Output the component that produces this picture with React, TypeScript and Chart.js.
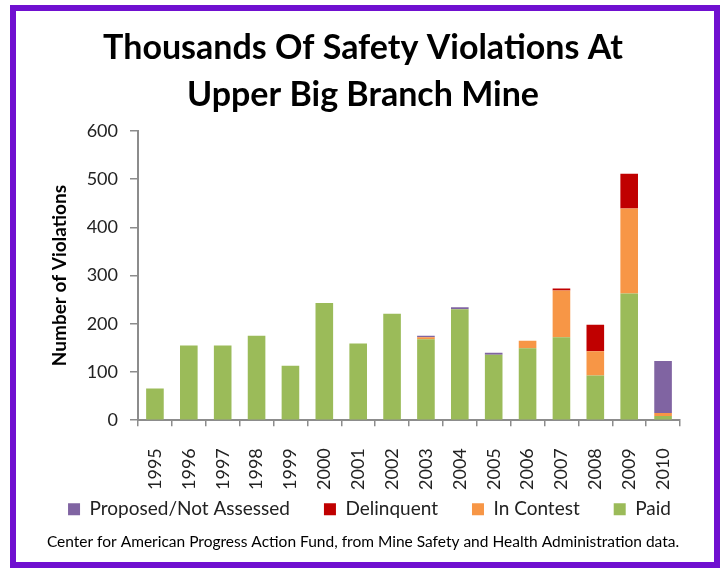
import React, { useEffect, useRef } from 'react';
import { Chart, registerables } from 'chart.js';

Chart.register(...registerables);

const years = ['1995', '1996', '1997', '1998', '1999', '2000', '2001', '2002', '2003', '2004', '2005', '2006', '2007', '2008', '2009', '2010'];
const paid = [66, 155, 155, 175, 113, 243, 159, 221, 168, 230, 136, 149, 172, 93, 263, 9];
const inContest = [0, 0, 0, 0, 0, 0, 0, 0, 4, 0, 0, 16, 97, 50, 176, 6];
const delinquent = [0, 0, 0, 0, 0, 0, 0, 0, 0, 0, 0, 0, 4, 55, 72, 0];
const proposed = [0, 0, 0, 0, 0, 0, 0, 0, 3, 4, 4, 0, 0, 0, 0, 108];
const yMin = 0;
const yMax = 600;
const yStep = 100;

const titleLines = ['Thousands Of Safety Violations At', 'Upper Big Branch Mine'];
const sourceText = 'Center for American Progress Action Fund, from Mine Safety and Health Administration data.';

const FONT = 'Lato';
const AXIS = '#8c8c8c';

// Spread the legend items like the original (wide gaps) without letting the
// item padding push the legend row downwards.
const legendTweak = {
  id: 'legendTweak',
  beforeLayout(chart: any) {
    const lg: any = chart.legend;
    if (lg && !lg.__patched) {
      const orig = lg.fit;
      lg.fit = function () {
        this.maxWidth = 2000;
        orig.call(this);
        this.height = 21;
      };
      lg.__patched = true;
    }
  },
  afterLayout(chart: any) {
    const lg: any = chart.legend;
    if (!lg) return;
    lg.top = chart.chartArea.bottom + 45.5;
    lg.bottom = lg.top + 64;
    lg.height = 64;
    lg.left = 19;
    lg.right = 720;
    lg.width = 701;
  },
};

export default function App() {
  const ref = useRef<HTMLCanvasElement>(null);

  useEffect(() => {
    if (!ref.current) return;
    const chart = new Chart(ref.current, {
      type: 'bar',
      data: {
        labels: years,
        datasets: [
          { label: 'Paid', data: paid, backgroundColor: '#9BBB59' },
          { label: 'In Contest', data: inContest, backgroundColor: '#F79646' },
          { label: 'Delinquent', data: delinquent, backgroundColor: '#C00000' },
          { label: 'Proposed/Not Assessed', data: proposed, backgroundColor: '#8064A2' },
        ],
      },
      options: {
        responsive: false,
        animation: false,
        layout: { padding: { left: 46, right: 40, top: 14, bottom: 10 } },
        datasets: { bar: { barPercentage: 0.52, categoryPercentage: 1 } },
        scales: {
          x: {
            stacked: true,
            grid: { display: true, drawOnChartArea: false, drawTicks: true, tickLength: 6, color: AXIS, offset: true, lineWidth: 1.5 },
            border: { color: AXIS, width: 2 },
            ticks: { minRotation: 90, maxRotation: 90, padding: 22, color: '#222', font: { family: FONT, size: 18 } },
          },
          y: {
            stacked: true,
            min: yMin,
            max: yMax,
            ticks: { stepSize: yStep, padding: 12, color: '#222', font: { family: FONT, size: 18 } },
            grid: { drawOnChartArea: false, drawTicks: true, tickLength: 8, color: AXIS, lineWidth: 1.5 },
            border: { color: AXIS, width: 2 },
            title: {
              display: true,
              text: 'Number of Violations',
              color: '#000',
              font: { family: FONT, size: 19, weight: 'bold' },
              padding: { top: 2, bottom: 4 },
            },
            afterFit: (s: any) => { s.width = 92; },
          },
        },
        plugins: {
          title: {
            display: true,
            text: titleLines,
            color: '#000',
            font: { family: FONT, size: 34, weight: 'bold', lineHeight: 1.38 },
            padding: { top: 10.5, bottom: 12.5 },
          },
          subtitle: {
            display: true,
            position: 'bottom',
            text: sourceText,
            color: '#000',
            font: { family: FONT, size: 15.5 },
            padding: { top: 0, bottom: 6.4 },
          },
          legend: {
            position: 'bottom',
            reverse: true,
            labels: {
              boxWidth: 12,
              boxHeight: 12,
              padding: 34,
              color: '#222',
              font: { family: FONT, size: 19 },
            },
          },
          tooltip: { enabled: false },
        },
      },
      plugins: [legendTweak],
    });
    return () => chart.destroy();
  }, []);

  return (
    <div style={{ position: 'absolute', left: 0, top: 0, width: 720, height: 568, background: '#fff', overflow: 'hidden' }}>
      <canvas ref={ref} width={720} height={568} style={{ display: 'block' }} />
      <div
        style={{
          position: 'absolute',
          left: 10,
          top: 5,
          width: 710,
          height: 563,
          boxSizing: 'border-box',
          border: '6px solid #7010D0',
          pointerEvents: 'none',
        }}
      />
    </div>
  );
}
